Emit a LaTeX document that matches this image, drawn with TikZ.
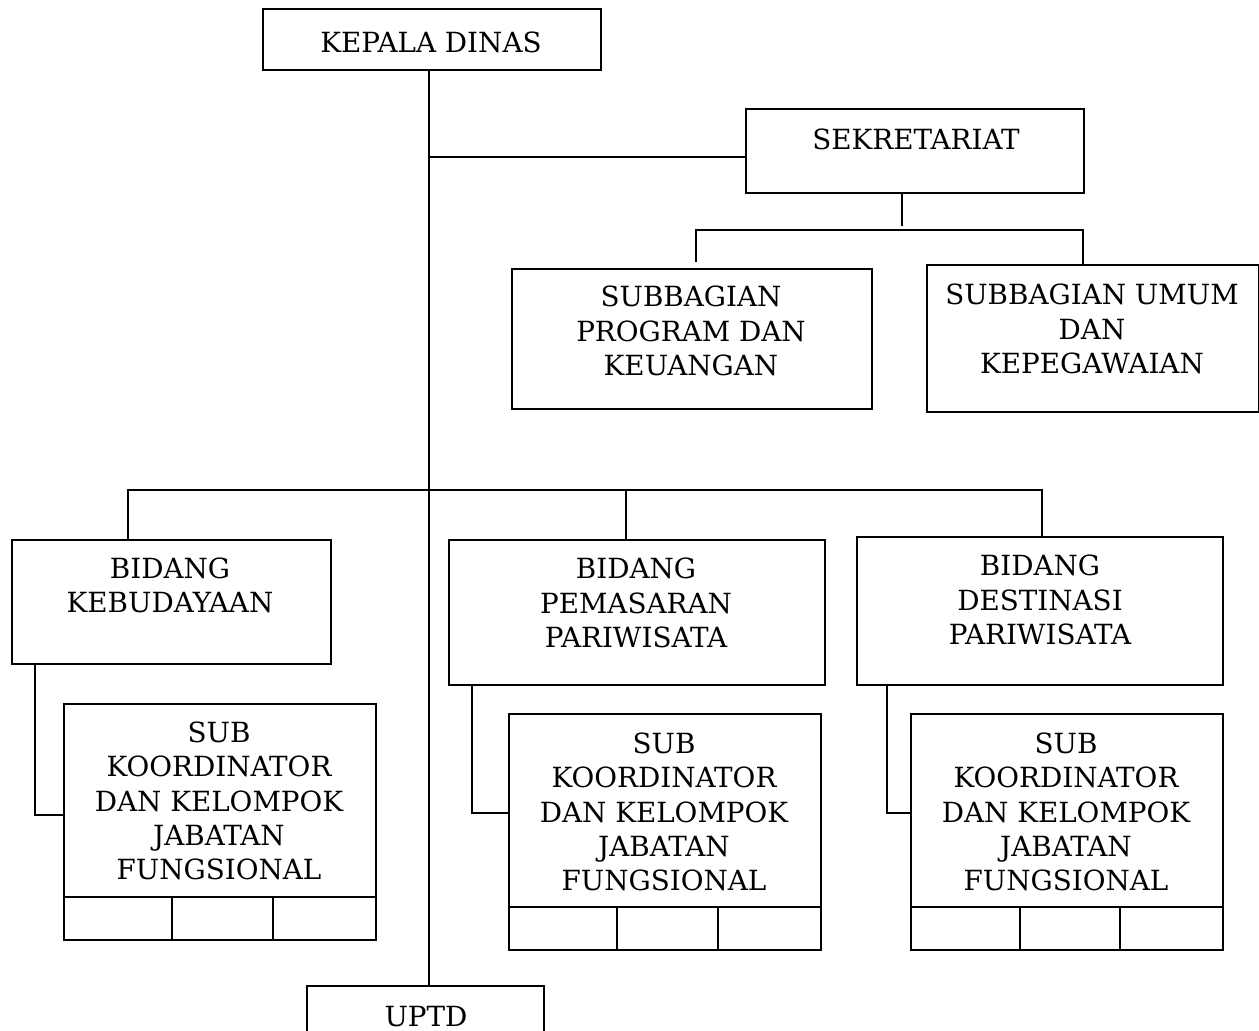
\documentclass[tikz,border=0pt]{standalone}
\usepackage{fontspec}
\setmainfont{DejaVu Serif}
\usetikzlibrary{calc}
\newcommand\bx[5]{\node[box, minimum width={(#4-#2)*0.01cm}, minimum height={(#5-#3)*0.01cm}] (#1) at (#2,#3) {};}
\begin{document}
\begin{tikzpicture}[x=0.01cm,y=-0.01cm, line width=0.6pt,
 box/.style={draw, line width=0.7pt, inner sep=0pt, anchor=north west},
 lbl/.style={align=center, inner sep=0pt, font=\fontsize{7.9}{9.7}\selectfont}]
\useasboundingbox (0,0) rectangle (1259,1031);
% boxes
\bx{kd}{262}{8}{600}{69}
\bx{sek}{745}{108}{1083}{192}
\bx{sp}{511}{268}{871}{408}
\bx{su}{926}{264}{1258}{411}
\bx{b1}{11}{539}{330}{663}
\bx{b2}{448}{539}{824}{684}
\bx{b3}{856}{536}{1222}{684}
\bx{s1}{63}{703}{375}{939}
\bx{s2}{508}{713}{820}{949}
\bx{s3}{910}{713}{1222}{949}
\bx{uptd}{306}{985}{543}{1060}
% labels
\node[lbl] (tkd) at (431,42) {KEPALA DINAS};
\node[lbl] (tsek) at (916,139) {SEKRETARIAT};
\node[lbl] (tsp) at (691,331) {SUBBAGIAN\\PROGRAM DAN\\KEUANGAN};
\node[lbl] (tsu) at (1092,329) {SUBBAGIAN UMUM\\DAN\\KEPEGAWAIAN};
\node[lbl] (tb1) at (170,585) {BIDANG\\KEBUDAYAAN};
\node[lbl] (tb2) at (636,603) {BIDANG\\PEMASARAN\\PARIWISATA};
\node[lbl] (tb3) at (1040,600) {BIDANG\\DESTINASI\\PARIWISATA};
\node[lbl] (ts1) at (219,801) {SUB\\KOORDINATOR\\DAN KELOMPOK\\JABATAN\\FUNGSIONAL};
\node[lbl] (ts2) at (664,812) {SUB\\KOORDINATOR\\DAN KELOMPOK\\JABATAN\\FUNGSIONAL};
\node[lbl] (ts3) at (1066,812) {SUB\\KOORDINATOR\\DAN KELOMPOK\\JABATAN\\FUNGSIONAL};
\node[lbl] (tup) at (426,1017) {UPTD};
% cells under sub boxes
\draw (63,897) -- (375,897) (172,897) -- (172,939) (273,897) -- (273,939);
\draw (508,907) -- (820,907) (617,907) -- (617,949) (718,907) -- (718,949);
\draw (910,907) -- (1222,907) (1020,907) -- (1020,949) (1120,907) -- (1120,949);
% connectors
\coordinate (mt) at (429,69);
\coordinate (mb) at (429,985);
\coordinate (sj) at (745,157);
\coordinate (ss) at (902,192);
\coordinate (sa) at (696,262);
\coordinate (sb) at (1083,264);
\coordinate (c1) at (128,539);
\coordinate (c2) at (626,539);
\coordinate (c3) at (1042,536);
\coordinate (e1) at (35,663);
\coordinate (e2) at (472,684);
\coordinate (e3) at (887,684);
\draw (mt) -- (mb);
\draw (mt |- sj) -- (sj);
\draw (ss) -- ++(0,34);
\draw (sa) -- ++(0,-32) -| (sb);
\draw (c1) -- ++(0,-49) -| (c3);
\draw (c2) -- ++(0,-49);
\draw (e1) |- ++(28,152);
\draw (e2) |- ++(36,129);
\draw (e3) |- ++(23,129);
\end{tikzpicture}
\end{document}
